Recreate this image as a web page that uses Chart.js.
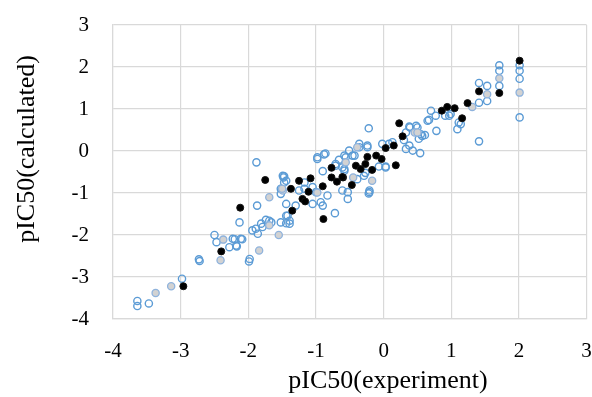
<!DOCTYPE html>
<html>
<head>
<meta charset="utf-8">
<script src="https://cdn.jsdelivr.net/npm/chart.js@4"></script>
<style>
    html, body { margin: 0; padding: 0; background: #fff; }
    #wrap { width: 592px; height: 397px; }
</style>
</head>
<body>
<div id="wrap"><canvas id="chart" width="592" height="397"></canvas></div>
<script>
// Data (pIC50 experiment vs calculated)
const bluePoints = [
    [2.01, 2.04], [2.01, 1.91], [2.01, 1.72], [2.01, 0.80],
    [1.71, 2.04], [1.71, 1.91], [1.71, 1.55],
    [1.41, 1.62], [1.53, 1.55], [1.53, 1.19], [1.41, 1.15],
    [1.41, 0.23], [1.11, 0.68], [1.09, 0.52], [1.14, 0.64],
    [0.78, 0.48], [0.67, 0.74], [0.70, 0.96], [0.77, 0.84], [0.91, 0.84], [0.97, 0.84], [0.99, 0.88], [0.65, 0.72],
    [0.38, 0.58], [0.48, 0.60], [0.33, 0.44], [0.57, 0.36], [0.52, 0.29], [0.61, 0.38], [0.55, 0.40], [0.39, 0.56], [0.50, 0.56],
    [0.38, 0.13], [0.43, 0.01], [0.54, -0.05], [0.30, 0.26], [0.08, 0.17], [-0.02, 0.17], [0.13, 0.21], [0.33, 0.05],
    [-0.22, 0.54], [-0.36, 0.17], [-0.24, 0.13], [-0.36, 0.09], [-0.24, 0.09], [-0.51, 0.01],
    [-0.46, -0.11], [-0.56, -0.15], [-0.66, -0.21], [-0.58, -0.11], [-0.43, -0.11],
    [-0.86, -0.06], [-0.88, -0.08], [-0.98, -0.19], [-0.98, -0.15],
    [-0.90, -0.48], [-0.71, -0.35], [-0.71, -0.31], [-0.61, -0.39], [-0.58, -0.47], [-0.58, -0.43],
    [0.03, -0.37], [-0.07, -0.37], [0.03, -0.39],
    [-0.29, -0.59], [-0.39, -0.67], [-0.27, -0.52],
    [-0.21, -0.98], [-0.21, -0.94], [-0.53, -0.98], [-0.61, -0.94], [-0.53, -1.14], [-0.22, -1.01],
    [-0.72, -1.48], [-0.93, -1.22], [-0.90, -1.30], [-1.05, -1.26], [-0.83, -1.06], [-1.00, -0.98],
    [-1.17, -0.90], [-1.05, -0.86], [-1.25, -0.94], [-1.17, -0.75], [-1.49, -0.59], [-1.47, -0.75], [-1.47, -0.60],
    [-1.30, -1.30], [-1.44, -1.26], [-1.44, -1.54], [-1.39, -1.66], [-1.52, -1.70], [-1.39, -1.73], [-1.42, -1.54], [-1.52, -1.02],
    [-1.48, -0.63], [-1.52, -0.90], [-1.44, -0.71],
    [-1.88, -0.27], [-1.87, -1.30],
    [-2.13, -1.70], [-1.94, -1.89], [-1.81, -1.73], [-1.74, -1.64], [-1.66, -1.70], [-1.89, -1.85], [-1.79, -1.81], [-1.69, -1.66], [-1.86, -1.97], [-1.44, -1.72],
    [-2.50, -2.00], [-2.47, -2.17], [-2.23, -2.09], [-2.11, -2.09], [-2.18, -2.25], [-2.28, -2.29], [-2.20, -2.10], [-2.17, -2.27], [-2.09, -2.10],
    [-1.98, -2.57], [-1.99, -2.63], [-2.72, -2.62], [-2.73, -2.58],
    [-2.98, -3.04], [-3.47, -3.63], [-3.64, -3.57], [-3.64, -3.69]
];
const greyPoints = [
    [2.01, 1.39], [1.71, 1.73], [1.53, 1.35], [1.31, 1.05], [0.46, 0.44], [0.50, 0.44],
    [-0.39, 0.09], [-0.17, -0.71], [-0.56, -0.27], [-0.45, -0.63], [-0.98, -0.99],
    [-1.49, -0.94], [-1.50, -0.90], [-1.69, -1.10], [-1.69, -1.77], [-1.55, -2.00],
    [-1.84, -2.37], [-2.37, -2.11], [-2.41, -2.60], [-3.14, -3.22], [-3.37, -3.38]
];
const blackPoints = [
    [2.01, 2.15], [1.41, 1.42], [1.71, 1.38], [1.24, 1.14], [1.05, 1.02], [0.94, 1.05], [0.86, 0.96], [1.16, 0.78],
    [0.23, 0.66], [0.28, 0.35], [0.15, 0.13], [0.03, 0.07], [-0.03, -0.19], [-0.11, -0.11], [0.18, -0.34],
    [-0.24, -0.14], [-0.27, -0.31], [-0.17, -0.45], [-0.41, -0.35], [-0.34, -0.43], [-0.47, -0.81],
    [-0.60, -0.63], [-0.77, -0.40], [-0.77, -0.63], [-0.90, -0.84], [-1.08, -0.65], [-1.25, -0.71],
    [-1.37, -0.90], [-1.11, -0.97], [-0.69, -0.73], [-1.20, -1.14], [-1.16, -1.20], [-0.89, -1.62],
    [-1.35, -1.42], [-1.75, -0.69], [-2.12, -1.35], [-2.40, -2.39], [-2.96, -3.22], [-0.61, -0.62]
];
const axisMin = -4;
const axisMax = 3;
const xTitle = 'pIC50(experiment)';
const yTitle = 'pIC50(calculated)';

const toXY = pts => pts.map(p => ({ x: p[0], y: p[1] }));
const gridColor = '#d9d9d9';
const serif = '"Liberation Serif", "Times New Roman", serif';

// axis titles drawn by hand so they sit where the original has them
const axisTitles = {
    id: 'axisTitles',
    afterDraw(chart) {
        const ctx = chart.ctx;
        ctx.save();
        ctx.fillStyle = '#000';
        ctx.font = '26px ' + serif;
        ctx.textAlign = 'center';
        ctx.textBaseline = 'middle';
        ctx.fillText(xTitle, 388, 381);
        ctx.translate(27, 149);
        ctx.rotate(-Math.PI / 2);
        ctx.fillText(yTitle, 0, 0);
        ctx.restore();
    }
};

new Chart(document.getElementById('chart'), {
    type: 'scatter',
    data: {
        datasets: [
            { label: 'test', data: toXY(blackPoints), order: 1, pointRadius: 3.5, borderWidth: 1, backgroundColor: '#000', borderColor: '#111' },
            { label: 'validation', data: toXY(greyPoints), order: 2, pointRadius: 3.6, borderWidth: 1.3, backgroundColor: '#d2d2d2', borderColor: '#8fb3dd' },
            { label: 'training', data: toXY(bluePoints), order: 3, pointRadius: 3.6, borderWidth: 1.4, backgroundColor: 'rgba(255,255,255,0)', borderColor: '#5b9bd5' }
        ]
    },
    options: {
        responsive: false,
        animation: false,
        layout: { padding: { left: 0, right: 4, top: 25, bottom: 0 } },
        plugins: { legend: { display: false }, tooltip: { enabled: false } },
        scales: {
            x: {
                type: 'linear', min: axisMin, max: axisMax,
                ticks: { stepSize: 1, color: '#000', padding: 20, font: { family: serif, size: 21 } },
                grid: { color: gridColor, lineWidth: 1.2, drawTicks: false },
                border: { color: gridColor, width: 1.2 },
                afterFit: s => { s.height = 78; s.paddingLeft = 0; s.paddingRight = 0; }
            },
            y: {
                type: 'linear', min: axisMin, max: axisMax,
                ticks: { stepSize: 1, color: '#000', padding: 24, font: { family: serif, size: 21 } },
                grid: { color: gridColor, lineWidth: 1.2, drawTicks: false },
                border: { color: gridColor, width: 1.2 },
                afterFit: s => { s.width = 113; s.paddingTop = 0; s.paddingBottom = 0; }
            }
        }
    },
    plugins: [axisTitles]
});
</script>
</body>
</html>
